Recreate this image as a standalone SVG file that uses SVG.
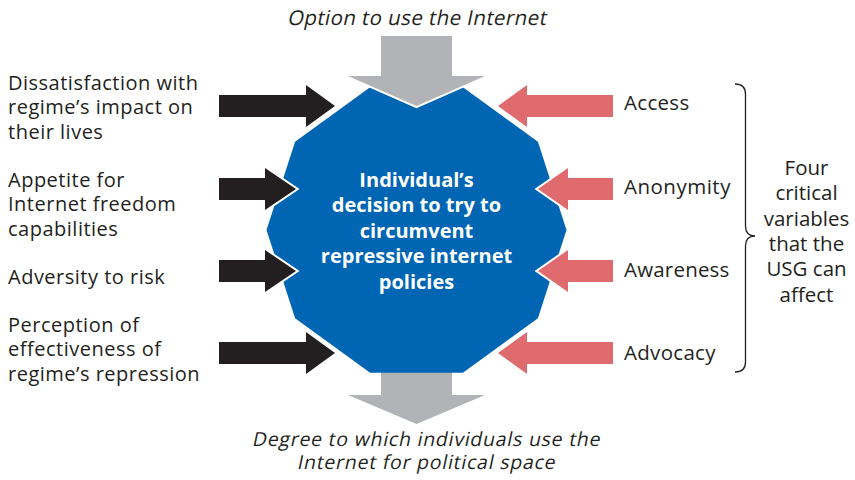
<svg xmlns="http://www.w3.org/2000/svg" width="855" height="480" viewBox="0 0 855 480">
<style>
.t{font-family:"Open Sans","Noto Sans","Liberation Sans",sans-serif;font-size:20.5px;fill:#231f20}
.l{font-size:20px;letter-spacing:0.5px}
.it{font-size:19.4px;text-anchor:middle;letter-spacing:0.8px}
.c{text-anchor:middle}
.w{font-family:"Open Sans","Noto Sans","Liberation Sans",sans-serif;font-size:20px;font-weight:bold;fill:#ffffff;text-anchor:middle}
.blk{fill:#231f20;stroke:#ffffff;stroke-width:4;paint-order:stroke;stroke-linejoin:miter}
.red{fill:#df6b6e;stroke:#ffffff;stroke-width:4;paint-order:stroke;stroke-linejoin:miter}
.gry{fill:#b1b3b6;stroke:#ffffff;stroke-width:4;paint-order:stroke;stroke-linejoin:miter}
.brace{fill:none;stroke:#231f20;stroke-width:1.3}
</style>
<rect width="855" height="480" fill="#ffffff"/>
<g id="output-arrow">
<polygon class="gry" points="381,360 452,360 452,395 485,395 416.5,424 348,395 381,395" style="stroke:none"/>
</g>
<g id="center">
<polygon fill="#0066b3" points="566.5,230 537.9,141.8 462.9,87.3 370.1,87.3 295.1,141.8 266.5,230 295.1,318.2 370.1,372.7 462.9,372.7 537.9,318.2"/>
<text class="w" x="416.5" y="187">Individual’s</text>
<text class="w" x="416.5" y="212">decision to try to</text>
<text class="w" x="416.5" y="237.5">circumvent</text>
<text class="w" x="416.5" y="263">repressive internet</text>
<text class="w" x="416.5" y="288.5">policies</text>
</g>
<g id="connectors">
<polygon class="gry" points="381,36 452,36 452,76 485,76 416.5,106 348,76 381,76"/>
<polygon class="blk" points="219,95 306,95 306,85 335,106 306,127 306,117 219,117"/>
<polygon class="blk" points="219,178 265,178 265,168 296,189 265,210 265,200 219,200"/>
<polygon class="blk" points="219,260 265,260 265,250 296,271 265,292 265,282 219,282"/>
<polygon class="blk" points="219,342 306,342 306,332 335,353 306,374 306,364 219,364"/>
<polygon class="red" points="613,95 527,95 527,85 498,106 527,127 527,117 613,117"/>
<polygon class="red" points="613,178 568,178 568,168 538,189 568,210 568,200 613,200"/>
<polygon class="red" points="613,260 568,260 568,250 538,271 568,292 568,282 613,282"/>
<polygon class="red" points="613,342 527,342 527,332 498,353 527,374 527,364 613,364"/>
</g>
<g id="top-label">
<text class="t c" transform="translate(416.5,24.5) skewX(-12)" x="0" y="0" style="letter-spacing:0.4px">Option to use the Internet</text>
</g>
<g id="bottom-label">
<text class="t it" transform="translate(426,445.5) skewX(-12)" x="0" y="0">Degree to which individuals use the</text>
<text class="t it" transform="translate(426,468.8) skewX(-12)" x="0" y="0">Internet for political space</text>
</g>
<g id="dissatisfaction">
<text class="t l" x="8" y="89.5">Dissatisfaction with</text>
<text class="t l" x="8" y="114">regime’s impact on</text>
<text class="t l" x="8" y="138.5">their lives</text>
</g>
<g id="appetite">
<text class="t l" x="8" y="186.5">Appetite for</text>
<text class="t l" x="8" y="211">Internet freedom</text>
<text class="t l" x="8" y="235.5">capabilities</text>
</g>
<g id="adversity">
<text class="t l" x="8" y="283.5">Adversity to risk</text>
</g>
<g id="perception">
<text class="t l" x="8" y="331.5">Perception of</text>
<text class="t l" x="8" y="356">effectiveness of</text>
<text class="t l" x="8" y="380.5">regime’s repression</text>
</g>
<g id="access"><text class="t" x="624" y="110" style="letter-spacing:0.3px">Access</text></g>
<g id="anonymity"><text class="t" x="624" y="194" style="letter-spacing:0.5px">Anonymity</text></g>
<g id="awareness"><text class="t" x="624" y="276.5" style="letter-spacing:0.2px">Awareness</text></g>
<g id="advocacy"><text class="t" x="624" y="360" style="letter-spacing:0.3px">Advocacy</text></g>
<g id="brace">
<path class="brace" d="M735,84 Q745.5,84 745.5,94 L745.5,226 Q745.5,236 755,236 Q745.5,236 745.5,246 L745.5,362 Q745.5,372 735,372"/>
</g>
<g id="usg-label">
<text class="t c" x="806.5" y="175">Four</text>
<text class="t c" x="806.5" y="200.3">critical</text>
<text class="t c" x="806.5" y="225.6">variables</text>
<text class="t c" x="806.5" y="250.9">that the</text>
<text class="t c" x="806.5" y="276.2">USG can</text>
<text class="t c" x="806.5" y="301.5">affect</text>
</g>
</svg>
